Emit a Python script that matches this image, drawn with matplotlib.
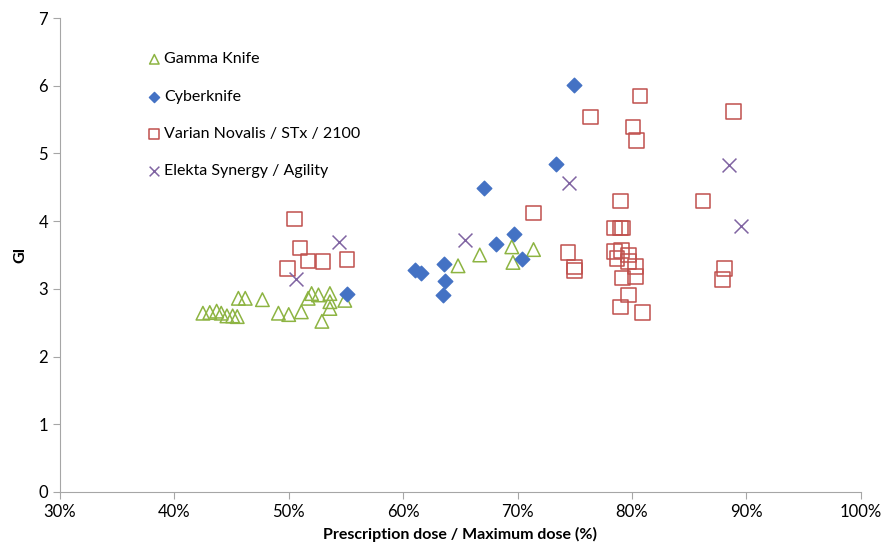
import matplotlib
matplotlib.use('Agg')
import matplotlib.pyplot as plt
from matplotlib.ticker import FuncFormatter

plt.rcParams['font.family'] = ['Lato', 'DejaVu Sans']

# Gamma Knife
gk_x = [42.5, 43.1, 43.7, 44.1, 44.6, 45.1, 45.5, 45.6, 46.2, 47.7, 49.1, 50.0, 51.1,
        52.0, 51.7, 52.6, 52.9, 53.6, 53.6, 53.6, 54.9, 64.8, 66.7, 69.5, 69.6, 71.4]
gk_y = [2.64, 2.65, 2.67, 2.64, 2.60, 2.60, 2.59, 2.86, 2.86, 2.84, 2.64, 2.62, 2.66,
        2.93, 2.86, 2.91, 2.52, 2.93, 2.81, 2.71, 2.83, 3.34, 3.50, 3.62, 3.39, 3.58]

# Cyberknife
ck_x = [55.1, 73.4, 67.1, 61.0, 61.6, 63.6, 63.7, 63.5, 68.1, 69.7, 70.4, 74.9]
ck_y = [2.93, 4.84, 4.49, 3.28, 3.24, 3.36, 3.11, 2.91, 3.66, 3.81, 3.44, 6.01]

# Varian Novalis / STx / 2100
va_x = [50.5, 51.0, 51.7, 53.0, 55.1, 49.9, 71.4, 80.7, 76.4, 80.1, 80.4, 79.0,
        78.5, 79.0, 79.2, 74.4, 75.0, 75.0, 78.5, 79.1, 79.7, 78.7, 79.7, 80.3,
        79.2, 80.3, 79.7, 79.0, 80.9, 88.9, 86.2, 88.1, 87.9]
va_y = [4.03, 3.60, 3.41, 3.40, 3.43, 3.30, 4.12, 5.85, 5.54, 5.39, 5.19, 4.30,
        3.90, 3.90, 3.90, 3.54, 3.32, 3.27, 3.55, 3.57, 3.50, 3.45, 3.40, 3.33,
        3.16, 3.18, 2.91, 2.73, 2.65, 5.62, 4.30, 3.30, 3.14]

# Elekta Synergy / Agility
el_x = [50.6, 54.4, 65.4, 74.5, 88.5, 89.5]
el_y = [3.15, 3.69, 3.72, 4.56, 4.83, 3.93]

fig = plt.figure(figsize=(8.81, 5.54), dpi=100)
ax = fig.add_axes([0.068, 0.112, 0.909, 0.8555])

ax.scatter(gk_x, gk_y, marker='^', s=95, facecolors='none', edgecolors='#8DB442',
           linewidths=1.1, label='Gamma Knife')
ax.scatter(ck_x, ck_y, marker='D', s=55, color='#4472C4', edgecolors='#4472C4',
           label='Cyberknife')
ax.scatter(va_x, va_y, marker='s', s=110, facecolors='none', edgecolors='#C0504D',
           linewidths=1.1, label='Varian Novalis / STx / 2100')
ax.scatter(el_x, el_y, marker='x', s=100, color='#8064A2', linewidths=1.1,
           label='Elekta Synergy / Agility')

ax.set_xlim(30, 100)
ax.set_ylim(0, 7)
ax.set_xticks(range(30, 101, 10))
ax.set_yticks(range(0, 8))
ax.xaxis.set_major_formatter(FuncFormatter(lambda v, p: f'{int(v)}%'))

for s in ['top', 'right']:
    ax.spines[s].set_visible(False)
for s in ['left', 'bottom']:
    ax.spines[s].set_color('#A6A6A6')
ax.tick_params(colors='#A6A6A6', labelcolor='black', labelsize=12, length=5,
               direction='out')

ax.set_xlabel('Prescription dose / Maximum dose (%)', fontsize=11.5, fontweight='bold',
              labelpad=5)
ax.set_ylabel('GI', fontsize=11.5, fontweight='bold', labelpad=8)

leg = ax.legend(loc='upper left', bbox_to_anchor=(0.09, 0.958), frameon=False,
                fontsize=11.5, labelspacing=1.45, handletextpad=0.1,
                markerscale=0.7, handlelength=1.0)

plt.savefig('out.png', dpi=100)
